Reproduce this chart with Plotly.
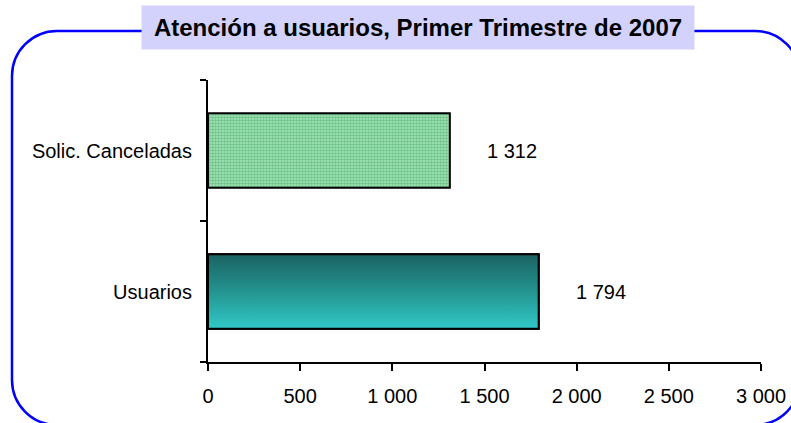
"""
Atención a usuarios - gráfico de barras horizontales
"""
import plotly.graph_objects as go

# datos
categorias = ['Usuarios', 'Solic. Canceladas']
valores = [1794, 1312]
etiquetas = ['1 794', '1 312']
titulo = 'Atención a usuarios, Primer Trimestre de 2007'
x_ticks = [0, 500, 1000, 1500, 2000, 2500, 3000]

FONT = 'Liberation Sans, Arial, sans-serif'
ANCHO_BARRA = 0.53

# geometría en píxeles del área de trazado (para el marco)
PX_L, PX_R, PX_T, PX_B = 208, 761, 80, 362


def px(x, y):
    return (x - PX_L) / (PX_R - PX_L), (PX_B - y) / (PX_B - PX_T)


def marco_redondeado(l, t, r, b, rad, gap_l, gap_r):
    k = 0.5523 * rad

    def P(x, y):
        a, c = px(x, y)
        return f'{a:.5f},{c:.5f}'

    d = f'M{P(gap_l, t)} L{P(l + rad, t)} '
    d += f'C{P(l + rad - k, t)} {P(l, t + rad - k)} {P(l, t + rad)} '
    d += f'L{P(l, b - rad)} '
    d += f'C{P(l, b - rad + k)} {P(l + rad - k, b)} {P(l + rad, b)} '
    d += f'L{P(r - rad, b)} '
    d += f'C{P(r - rad + k, b)} {P(r, b - rad + k)} {P(r, b - rad)} '
    d += f'L{P(r, t + rad)} '
    d += f'C{P(r, t + rad - k)} {P(r - rad + k, t)} {P(r - rad, t)} '
    d += f'L{P(gap_r, t)}'
    return d


fig = go.Figure()

# Solic. Canceladas (trama punteada verde)
fig.add_trace(go.Bar(
    x=[valores[1]], y=[1], orientation='h', width=ANCHO_BARRA,
    marker=dict(color='#98e0ae',
                pattern=dict(shape='.', fgcolor='#2f9e55', bgcolor='#a8e6ba',
                             size=3, solidity=0.55),
                line=dict(color='black', width=2)),
    hoverinfo='skip', showlegend=False
))

# Usuarios (base + degradado vertical)
fig.add_trace(go.Bar(
    x=[valores[0]], y=[0], orientation='h', width=ANCHO_BARRA,
    marker=dict(color='#25908f', line=dict(color='black', width=2)),
    hoverinfo='skip', showlegend=False
))
h = ANCHO_BARRA / 2
fig.add_trace(go.Scatter(
    x=[0, valores[0], valores[0], 0, 0],
    y=[-h, -h, h, h, -h],
    mode='lines', fill='toself',
    line=dict(color='black', width=2),
    fillgradient=dict(type='vertical',
                      colorscale=[[0, '#30c9c8'], [0.5, '#24948f'], [1, '#1b6262']]),
    hoverinfo='skip', showlegend=False
))

# etiquetas de valor
for i, (v, t) in enumerate(zip(valores, etiquetas)):
    fig.add_annotation(x=v, y=i, text=t, showarrow=False, xanchor='left',
                       xshift=35, font=dict(family=FONT, size=20, color='black'))

# título con fondo
fig.add_annotation(
    x=px(418, 0)[0], y=px(0, 27.5)[1], xref='paper', yref='paper',
    text=f'<b>{titulo}</b>', showarrow=False,
    xanchor='center', yanchor='middle',
    width=552, height=43, borderpad=0, bgcolor='#d2d2fd',
    font=dict(family=FONT, size=24, color='black')
)

# marco azul redondeado
fig.add_shape(type='path', xref='paper', yref='paper',
              path=marco_redondeado(12, 31, 800, 425, 45, 142, 694),
              line=dict(color='#0000ff', width=2.5))

fig.update_layout(
    width=791, height=423,
    margin=dict(l=PX_L, r=791 - PX_R, t=PX_T, b=423 - PX_B),
    paper_bgcolor='white', plot_bgcolor='white',
    separators=', ',
    font=dict(family=FONT, size=20, color='black'),
    xaxis=dict(range=[0, 3000], tickvals=x_ticks, separatethousands=True,
               showgrid=False, zeroline=False, showline=True, automargin=False,
               linecolor='black', linewidth=2, ticks='outside', ticklen=7,
               tickwidth=2, tickcolor='black', ticklabelstandoff=8,
               tickfont=dict(size=20)),
    yaxis=dict(range=[-0.5, 1.5], tickvals=[0, 1], ticktext=categorias,
               showgrid=False, zeroline=False, showline=True, automargin=False,
               linecolor='black', linewidth=2, ticks='',
               ticklabelstandoff=10, tickfont=dict(size=20),
               minor=dict(tickvals=[-0.5, 0.5, 1.5], ticks='outside',
                          ticklen=6, tickwidth=2, tickcolor='black',
                          showgrid=False)),
    showlegend=False
)

fig.write_html("out.html", config={'displayModeBar': False},
               post_script="document.body.style.margin='0';")
